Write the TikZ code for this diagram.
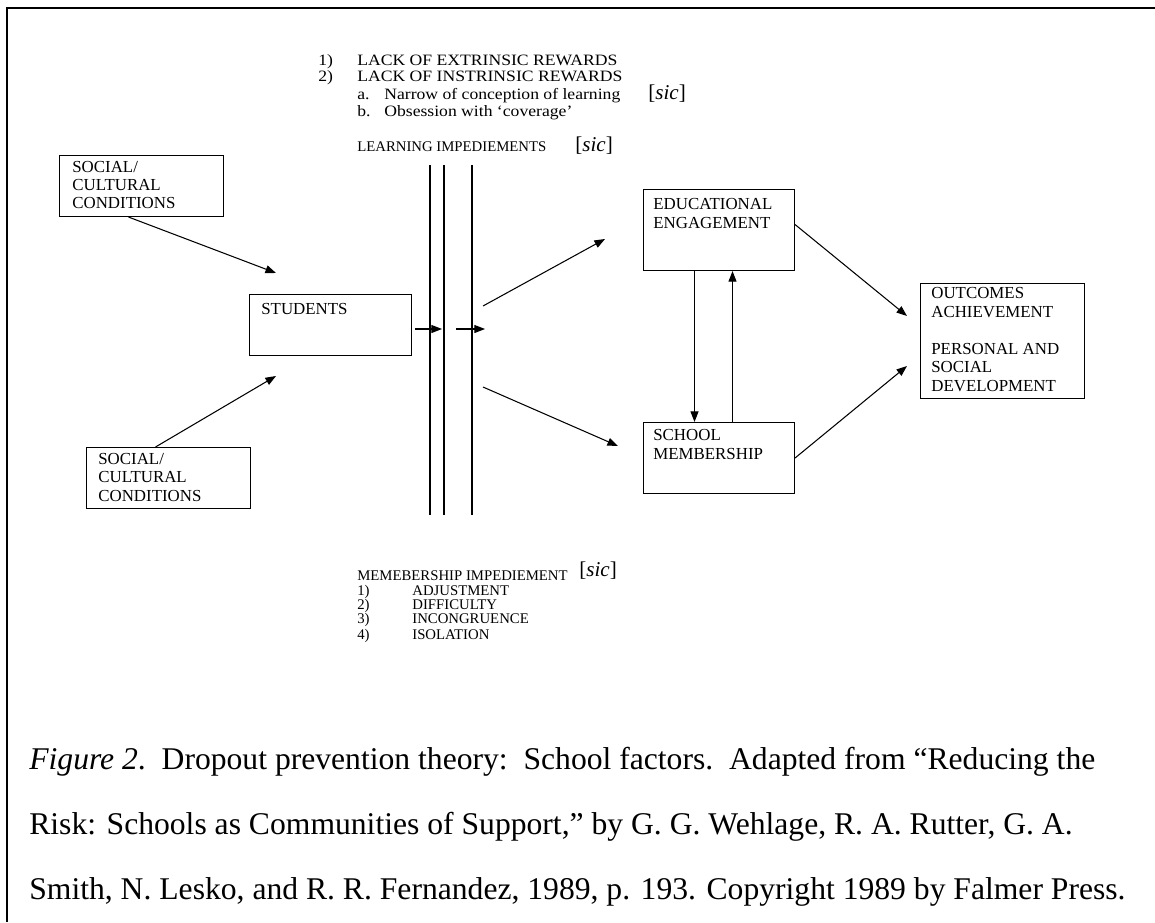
\documentclass[tikz,border=0pt]{standalone}
\usepackage{fontspec}
\setmainfont{Liberation Serif}
\newfontfamily\widefont[Ligatures=TeX,FakeStretch=1.115]{Liberation Serif}
\usetikzlibrary{arrows.meta}
\newcommand{\bxfont}{\fontsize{9.6}{10.5}\selectfont}
\newcommand{\lstfont}{\widefont\fontsize{9}{11}\selectfont}
\newcommand{\smlfont}{\fontsize{8.4}{8}\selectfont}
\newcommand{\sicfont}{\fontsize{12}{14}\selectfont}
\newcommand{\figcapfont}{\fontsize{18}{20}\selectfont}
\begin{document}
\begin{tikzpicture}[x=0.02cm,y=-0.02cm,>={Triangle[length=6pt,width=4.5pt]}]
\tikzstyle{box}=[draw,line width=0.6pt,inner sep=0pt,anchor=north west]
\tikzstyle{txt}=[inner sep=0pt,anchor=base west,align=left,font=\bxfont]
\tikzstyle{lst}=[inner sep=0pt,anchor=base west,font=\lstfont]
\tikzstyle{sml}=[inner sep=0pt,anchor=base west,font=\smlfont]
\tikzstyle{sicmark}=[inner sep=0pt,anchor=base west,font=\sicfont]
\tikzstyle{captxt}=[inner sep=0pt,anchor=base west,font=\figcapfont]
\tikzstyle{arr}=[->,line width=0.6pt]
    \useasboundingbox (0,0) rectangle (1155,922);
    \draw [line width=1.2pt] (7,922) -- (7,8) -- (1155,8);
    % boxes (text nodes sit on the baseline of their last line)
    \node [box,minimum width=3.28cm,minimum height=1.22cm] (sc1) at (59,155) {};
    \node [txt] (sc1t) at (72,209) {SOCIAL/\\CULTURAL\\CONDITIONS};
    \node [box,minimum width=3.28cm,minimum height=1.22cm] (sc2) at (86,447) {};
    \node [txt] (sc2t) at (98,501) {SOCIAL/\\CULTURAL\\CONDITIONS};
    \node [box,minimum width=3.24cm,minimum height=1.22cm] (st) at (249,294) {};
    \node [txt] (stt) at (261,314) {STUDENTS};
    \node [box,minimum width=3.02cm,minimum height=1.62cm] (ee) at (643,189) {};
    \node [txt] (eet) at (653,228) {EDUCATIONAL\\ENGAGEMENT};
    \node [box,minimum width=3.02cm,minimum height=1.42cm] (sm) at (643,422) {};
    \node [txt] (smt) at (653,459) {SCHOOL\\MEMBERSHIP};
    \node [box,minimum width=3.28cm,minimum height=2.30cm] (oc) at (920,283) {};
    \node [txt] (oct) at (931,391) {OUTCOMES\\ACHIEVEMENT\\[10.5pt]PERSONAL AND\\SOCIAL\\DEVELOPMENT};
    % learning impediments
    \node [lst] (l1n) at (318,66) {1)};
    \node [lst] (l1) at (357,66) {LACK OF EXTRINSIC REWARDS};
    \node [lst] (l2n) at (318,82) {2)};
    \node [lst] (l2) at (357,82) {LACK OF INSTRINSIC REWARDS};
    \node [lst] (la) at (357,100) {\makebox[0.54cm][l]{a.}Narrow of conception of learning};
    \node [sicmark] (sic1) at (648,100) {[\textit{sic}]};
    \node [lst] (lb) at (357,117) {\makebox[0.54cm][l]{b.}Obsession with `coverage'};
    \node [sml] (li) at (357,152) {LEARNING IMPEDIEMENTS};
    \node [sicmark] (sic2) at (575,152) {[\textit{sic}]};
    \foreach \x in {430,444,472}
        \draw [line width=0.8pt] (\x,165) -- (\x,515);
    % membership impediment
    \node [sml] (mi) at (357,580) {MEMEBERSHIP IMPEDIEMENT};
    \node [sicmark] (sic3) at (579,576) {[\textit{sic}]};
    \foreach \n/\y/\t in {1/595/ADJUSTMENT,2/609/DIFFICULTY,3/623/INCONGRUENCE,4/639/ISOLATION} {
        \node [sml] (mn\n) at (357,\y) {\n)};
        \node [sml] (mt\n) at (412,\y) {\t};
    }
    % free arrow ends
    \coordinate (sc1in) at (276,273);
    \coordinate (sc2in) at (276,376);
    \coordinate (g1s) at (415,329);
    \coordinate (g1e) at (442,329);
    \coordinate (g2s) at (456,329);
    \coordinate (g2e) at (485,329);
    \coordinate (upS) at (483,306);
    \coordinate (upE) at (605,239);
    \coordinate (loS) at (483,387);
    \coordinate (loE) at (618,446);
    \coordinate (ocin1) at (907,316);
    \coordinate (ocin2) at (907,366);
    \draw [arr] ([xshift=-0.26cm]sc1.south) -- (sc1in);
    \draw [arr] ([xshift=-0.26cm]sc2.north) -- (sc2in);
    \draw [arr] (g1s) -- (g1e);
    \draw [arr] (g2s) -- (g2e);
    \draw [arr] (upS) -- (upE);
    \draw [arr] (loS) -- (loE);
    \draw [arr] ([xshift=-0.49cm]ee.south) -- ([xshift=-0.49cm]sm.north);
    \draw [arr] ([xshift=0.27cm]sm.north) -- ([xshift=0.27cm]ee.south);
    \draw [arr] ([yshift=0.11cm]ee.east) -- (ocin1);
    \draw [arr] (sm.east) -- (ocin2);
    % caption
    \node [captxt] (c1) at (29,769) {\textit{Figure 2}.\ \ Dropout prevention theory:\ \ School factors.\ \ Adapted from ``Reducing the};
    \node [captxt] (c2) at (29,834) {Risk: Schools as Communities of Support,'' by G. G. Wehlage, R. A. Rutter, G. A.};
    \node [captxt] (c3) at (29,899) {Smith, N. Lesko, and R. R. Fernandez, 1989, p. 193. Copyright 1989 by Falmer Press.};
\end{tikzpicture}
\end{document}
